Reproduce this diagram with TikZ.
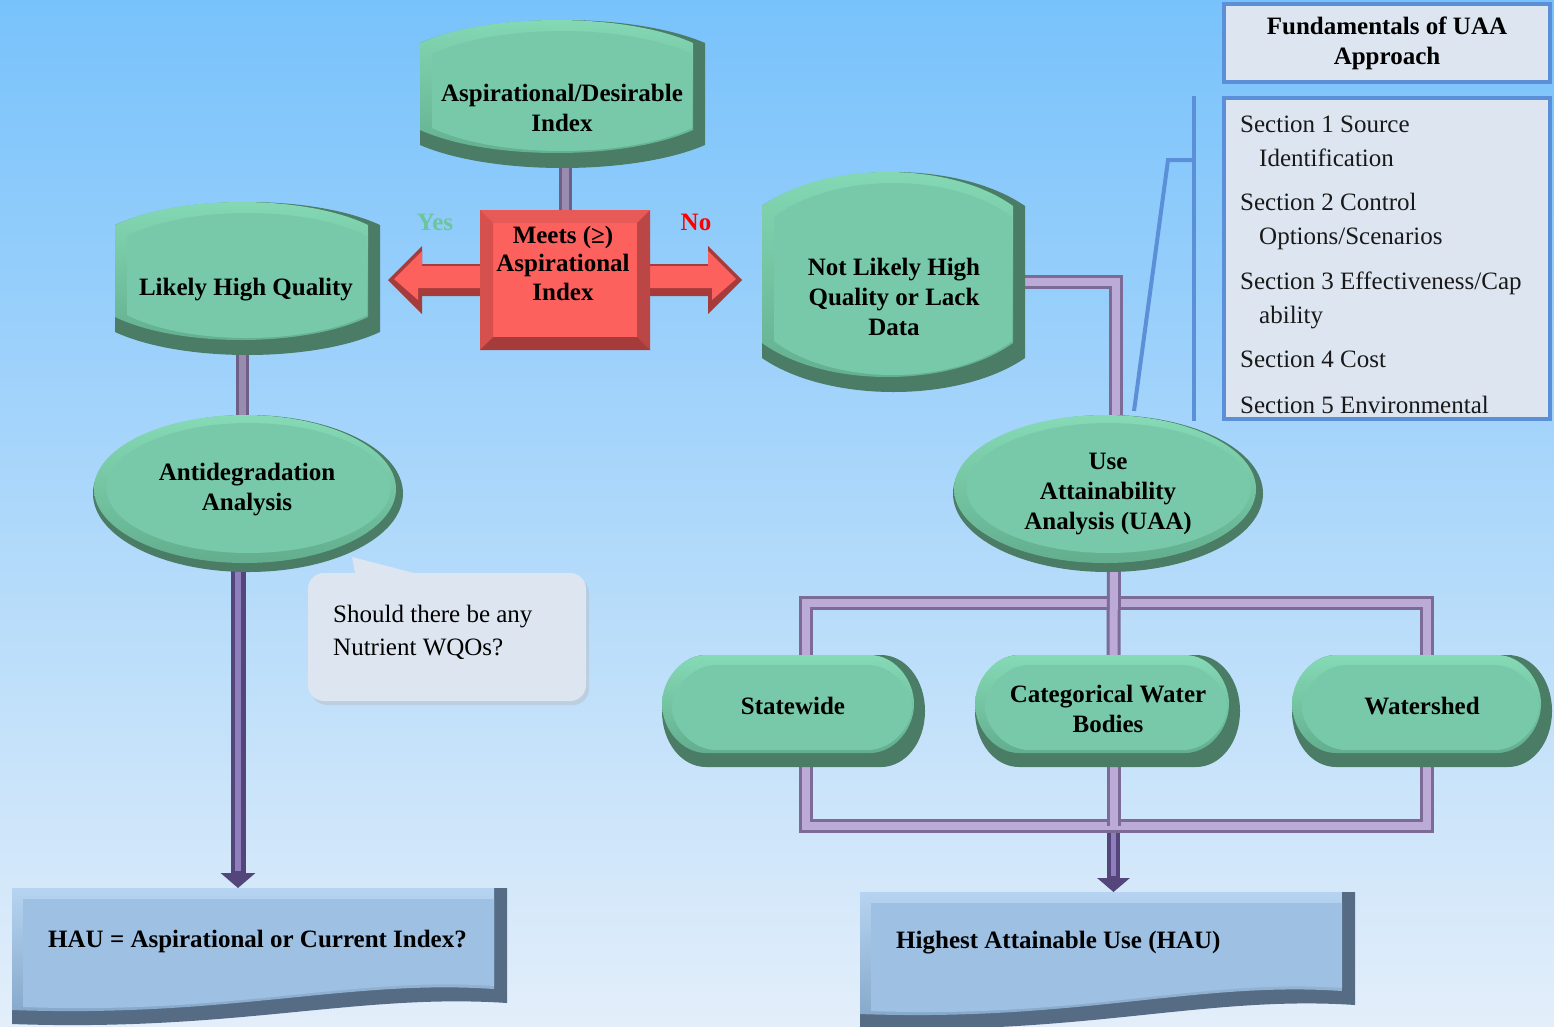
\documentclass[tikz,border=0pt]{standalone}
\usepackage{fontspec}
\setmainfont{Liberation Serif}
\usetikzlibrary{arrows.meta,calc}
\definecolor{gface}{HTML}{78C9AA}
\definecolor{gdark}{HTML}{4A7C66}
\definecolor{glight}{HTML}{86DAB6}
\definecolor{gleft}{HTML}{62AE8E}
\definecolor{rface}{HTML}{FD615D}
\definecolor{rtop}{HTML}{E85A57}
\definecolor{rleft}{HTML}{D6514E}
\definecolor{rright}{HTML}{BA4645}
\definecolor{rbot}{HTML}{A53B3A}
\definecolor{bface}{HTML}{9DC0E3}
\definecolor{bdark}{HTML}{566C84}
\definecolor{blight}{HTML}{B6D4F1}
\definecolor{bleft}{HTML}{84A7C9}
\definecolor{pale}{HTML}{DDE5F0}
\definecolor{bubcol}{HTML}{DDE6F0}
\definecolor{frameblue}{HTML}{5B8FD8}
\definecolor{pdark}{HTML}{7B6B96}
\definecolor{plight}{HTML}{BBABD6}
\definecolor{vdark}{HTML}{6E5F86}
\definecolor{vlight}{HTML}{9A8BB0}
\definecolor{adark}{HTML}{54457A}
\definecolor{alight}{HTML}{8E7FBC}
\definecolor{bgtop}{HTML}{78C2FB}
\definecolor{bgbot}{HTML}{E3EEFA}
\definecolor{yesgreen}{HTML}{6CC59C}

% drum (cylinder-like) outline: x1, ytop(center), x2, ybottom(center), curve depth
\newcommand\drumP[5]{({#1},{(#2)+(#5)}) .. controls ({(#1)+0.25*((#3)-(#1))},{(#2)-(#5)/3}) and ({(#3)-0.25*((#3)-(#1))},{(#2)-(#5)/3}) .. ({#3},{(#2)+(#5)}) -- ({#3},{(#4)-(#5)}) .. controls ({(#3)-0.25*((#3)-(#1))},{(#4)+(#5)/3}) and ({(#1)+0.25*((#3)-(#1))},{(#4)+(#5)/3}) .. ({#1},{(#4)-(#5)}) -- cycle}
\newcommand\drumS[5]{%
  \fill[gdark] \drumP{#1}{#2}{#3}{#4}{#5};
  \shade[top color=glight,bottom color=gleft] \drumP{#1}{#2}{(#3)-12}{(#4)-15}{#5};
  \fill[gface] \drumP{(#1)+12}{(#2)+11}{(#3)-13}{(#4)-17}{#5};}
% pill outline: x1 y1 x2 y2 (elliptic corners)
\newcommand\pillP[4]{({(#1)+44},{#2}) -- ({(#3)-44},{#2}) .. controls ({(#3)-20},{#2}) and ({#3},{(#2)+24}) .. ({#3},{((#2)+(#4))/2}) .. controls ({#3},{(#4)-24}) and ({(#3)-20},{#4}) .. ({(#3)-44},{#4}) -- ({(#1)+44},{#4}) .. controls ({(#1)+20},{#4}) and ({#1},{(#4)-24}) .. ({#1},{((#2)+(#4))/2}) .. controls ({#1},{(#2)+24}) and ({(#1)+20},{#2}) .. cycle}
\newcommand\pillS[4]{%
  \fill[gdark] \pillP{#1}{#2}{#3}{#4};
  \shade[top color=glight,bottom color=gleft] \pillP{#1}{#2}{(#3)-11}{(#4)-14};
  \fill[gface] \pillP{(#1)+10}{(#2)+10}{(#3)-13}{(#4)-17};}
% document outline: x1 y1 x2 yRight yLeft
\newcommand\docP[5]{({#1},{#2}) -- ({#3},{#2}) -- ({#3},{#4}) .. controls ({(#3)-0.3*((#3)-(#1))},{(#4)-10}) and ({(#1)+0.45*((#3)-(#1))},{(#5)+8}) .. ({#1},{#5}) -- cycle}
\newcommand\docS[5]{%
  \fill[bdark] \docP{#1}{#2}{#3}{#4}{#5};
  \shade[top color=blight,bottom color=bleft] \docP{#1}{#2}{(#3)-13}{(#4)-14}{(#5)-14};
  \fill[bface] \docP{(#1)+11}{(#2)+11}{(#3)-13}{(#4)-17}{(#5)-17};}

\tikzset{
  shapebox/.style={draw=none, fill=none, inner sep=0pt, outer sep=0pt, rectangle},
  lbl/.style={font=\bfseries\fontsize{25}{30}\selectfont, align=center, inner sep=0pt, text=black},
  sectxt/.style={font=\fontsize{25}{30}\selectfont, inner sep=0pt, anchor=base west, text=black!90},
  lconn/.style={draw=pdark, line width=3pt, double=plight, double distance=8pt},
  vconn/.style={draw=vdark, line width=3pt, double=vlight, double distance=7pt},
  bluel/.style={draw=frameblue, line width=4pt},
}

\begin{document}
\begin{tikzpicture}[x=1pt,y=-1pt]
\useasboundingbox (0,0) rectangle (1554,1026);
\shade[top color=bgtop,bottom color=bgbot] (0,0) rectangle (1554,1026);

% ---------- named frames of the shapes ----------
\node[shapebox, minimum width=285pt, minimum height=148pt] (asp) at (562.5,94) {};
\node[shapebox, minimum width=170pt, minimum height=140pt] (meets) at (565,280) {};
\node[shapebox, minimum width=265pt, minimum height=153pt] (lhq) at (247.5,278.5) {};
\node[shapebox, minimum width=310pt, minimum height=157pt] (anti) at (248,493.5) {};
\node[shapebox, minimum width=263pt, minimum height=220pt] (nlh) at (893.5,282) {};
\node[shapebox, minimum width=310pt, minimum height=157pt] (uaa) at (1108,493.5) {};
\node[shapebox, minimum width=263pt, minimum height=112pt] (sw) at (793.5,711) {};
\node[shapebox, minimum width=265pt, minimum height=112pt] (cw) at (1107.5,711) {};
\node[shapebox, minimum width=260pt, minimum height=112pt] (ws) at (1422,711) {};
\node[shapebox, minimum width=495pt, minimum height=138pt] (hau1) at (259.5,957) {};
\node[shapebox, minimum width=495pt, minimum height=134pt] (hau2) at (1107.5,959) {};
\node[shapebox, minimum width=278pt, minimum height=128pt] (bubble) at (447,637) {};
\coordinate (topbar) at (0,603);
\coordinate (botbar) at (0,826);
\coordinate (elbow) at (1168,160);

% ---------- connectors ----------
\draw[vconn] (meets.north |- asp.center) -- (meets.center);
\draw[vconn] ([xshift=-5.5pt]lhq.center) -- ([xshift=-5.5pt]lhq.center |- anti.center);
\draw[line width=15pt, adark, -{Triangle[length=15pt,width=34pt]}] ([xshift=-10pt]anti.center) -- ([xshift=-10pt]anti.center |- hau1.north);
\draw[line width=6pt, alight, shorten >=17pt] ([xshift=-10pt]anti.center) -- ([xshift=-10pt]anti.center |- hau1.north);
\draw[line width=13pt, adark, -{Triangle[length=14pt,width=32pt]}] ([xshift=6pt]cw.center |- botbar) -- ([xshift=6pt]cw.center |- hau2.north);
\draw[line width=5pt, alight, shorten >=16pt] ([xshift=6pt]cw.center |- botbar) -- ([xshift=6pt]cw.center |- hau2.north);
\draw[lconn] (nlh.center) -| ([xshift=8pt]uaa.center);
\draw[lconn] ([xshift=12pt]sw.center) |- ([xshift=5pt]ws.center |- topbar) -- ([xshift=5pt]ws.center);
\draw[lconn] ([xshift=12pt]sw.center) |- ([xshift=5pt]ws.center |- botbar) -- ([xshift=5pt]ws.center);
\draw[lconn] ([xshift=6pt]uaa.center) -- ([xshift=6pt]cw.center);
\draw[lconn] ([xshift=6pt]cw.center) -- ([xshift=6pt]cw.center |- botbar);

% ---------- shapes ----------
\drumS{420}{20}{705}{168}{23}
\drumS{115}{202}{380}{355}{23}
\drumS{762}{172}{1025}{392}{34}

\fill[gdark] (248,493.5) ellipse [x radius=155pt, y radius=78.5pt];
\shade[top color=glight,bottom color=gleft] (245,489) ellipse [x radius=151pt, y radius=74pt];
\fill[gface] (248.5,488) ellipse [x radius=142pt, y radius=65pt];

\fill[gdark] (1108,493.5) ellipse [x radius=155pt, y radius=78.5pt];
\shade[top color=glight,bottom color=gleft] (1105,489) ellipse [x radius=151pt, y radius=74pt];
\fill[gface] (1108.5,488) ellipse [x radius=142pt, y radius=65pt];

\pillS{662}{655}{925}{767}
\pillS{975}{655}{1240}{767}
\pillS{1292}{655}{1552}{767}

\docS{12}{888}{507}{1003}{1024}
\docS{860}{892}{1355}{1005}{1028}

% red double arrow and decision box
\fill[rbot] (388,280) -- (422,246) -- (422,264) -- (708,264) -- (708,246) -- (742,280) -- (708,314) -- (708,296) -- (422,296) -- (422,314) -- cycle;
\fill[rface] (394,279) -- (422,251) -- (422,266) -- (708,266) -- (708,251) -- (736,279) -- (712,300) -- (712,288) -- (418,288) -- (418,300) -- cycle;
\fill[rface] (480,210) rectangle (650,350);
\fill[rtop] (480,210) -- (650,210) -- (637,223) -- (493,223) -- cycle;
\fill[rleft] (480,210) -- (493,223) -- (493,337) -- (480,350) -- cycle;
\fill[rright] (650,210) -- (650,350) -- (637,337) -- (637,223) -- cycle;
\fill[rbot] (480,350) -- (650,350) -- (637,337) -- (493,337) -- cycle;

% speech bubble
\fill[black!30, opacity=0.35, rounded corners=16pt] (311,577) rectangle (589,705);
\fill[bubcol, rounded corners=16pt] (308,573) rectangle (586,701);
\fill[bubcol] (352,557) -- (422,575) -- (356,578) -- cycle;

% ---------- texts ----------
\node[lbl] (asp-t) at (562,108) {Aspirational/Desirable\\Index};
\node[lbl, font=\bfseries\fontsize{25}{28.5}\selectfont] (meets-t) at (563,263) {Meets (≥)\\Aspirational\\Index};
\node[lbl, text=yesgreen] (yes) at (435,222) {Yes};
\node[lbl, text=red] (no) at (696,222) {No};
\node[lbl] (lhq-t) at (246,290) {Likely High Quality};
\node[lbl] (anti-t) at (247,490) {Antidegradation\\Analysis};
\node[lbl] (nlh-t) at (894,297) {Not Likely High\\Quality or Lack\\Data};
\node[lbl] (uaa-t) at (1108,494) {Use\\Attainability\\Analysis (UAA)};
\node[lbl] (sw-t) at (793,706) {Statewide};
\node[lbl] (cw-t) at (1108,709) {Categorical Water\\Bodies};
\node[lbl] (ws-t) at (1422,706) {Watershed};
\node[lbl, anchor=west] (hau1-t) at (48,941) {HAU = Aspirational or Current Index?};
\node[lbl, anchor=west] (hau2-t) at (896,943) {Highest Attainable Use (HAU)};
\node[font=\fontsize{25}{33}\selectfont, align=left, anchor=west, inner sep=0pt] (bub-t) at (333,632) {Should there be any\\Nutrient WQOs?};

% ---------- fundamentals boxes ----------
\node[draw=frameblue, fill=pale, line width=4pt, minimum width=326pt, minimum height=78pt, lbl] (fund) at (1387,43) {Fundamentals of UAA\\Approach};
\node[draw=frameblue, fill=pale, line width=4pt, minimum width=326pt, minimum height=321pt, inner sep=0pt] (secs) at (1387,258.5) {};
\begin{scope}
\clip (1225,100) rectangle (1549,414);
\node[sectxt] (s1a) at (1240,132) {Section 1 Source};
\node[sectxt] (s1b) at (1259,166) {Identification};
\node[sectxt] (s2a) at (1240,210) {Section 2 Control};
\node[sectxt] (s2b) at (1259,244) {Options/Scenarios};
\node[sectxt] (s3a) at (1240,289) {Section 3 Effectiveness/Cap};
\node[sectxt] (s3b) at (1259,323) {ability};
\node[sectxt] (s4a) at (1240,367) {Section 4 Cost};
\node[sectxt] (s5a) at (1240,413) {Section 5 Environmental};
\end{scope}

% bracket lines
\draw[bluel] ([xshift=-28pt]secs.north west) -- ([xshift=-28pt]secs.south west);
\draw[bluel] ([xshift=-28pt]secs.north west |- elbow) -- (elbow) -- ([xshift=26pt,yshift=4pt]uaa.north);
\end{tikzpicture}
\end{document}
